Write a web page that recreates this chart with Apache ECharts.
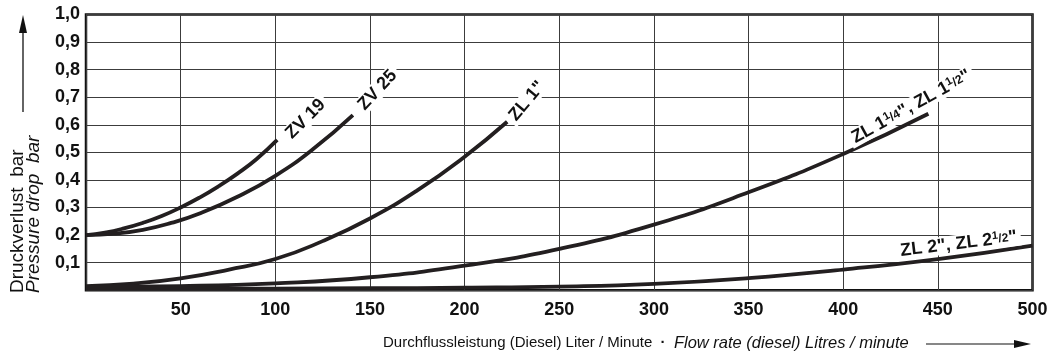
<!DOCTYPE html>
<html><head><meta charset="utf-8">
<script src="https://cdn.jsdelivr.net/npm/echarts@6/dist/echarts.min.js"></script>
<style>html,body{margin:0;padding:0;background:#fff}#c{width:1057px;height:354px}</style>
</head><body><div id="c"></div>
<script>
// ---- data ----
const zv19X = [0, 10, 20, 30, 40, 50, 60, 70, 80, 90, 101];
const zv19Y = [0.2, 0.209, 0.224, 0.244, 0.269, 0.30, 0.336, 0.377, 0.423, 0.475, 0.545];
const zv25X = [0, 15, 30, 45, 60, 80, 100, 120, 141];
const zv25Y = [0.2, 0.205, 0.219, 0.244, 0.278, 0.339, 0.415, 0.512, 0.635];
const zl1X = [0, 25, 50, 75, 100, 125, 150, 175, 200, 222.5];
const zl1Y = [0.015, 0.024, 0.043, 0.074, 0.113, 0.178, 0.26, 0.362, 0.484, 0.611];
const zl114X = [0, 50, 100, 150, 200, 250, 300, 350, 400, 445];
const zl114Y = [0.012, 0.015, 0.025, 0.047, 0.089, 0.15, 0.238, 0.355, 0.494, 0.64];
const zl2X = [0, 50, 100, 150, 200, 250, 300, 350, 400, 450, 500];
const zl2Y = [0.005, 0.005, 0.006, 0.007, 0.009, 0.013, 0.023, 0.044, 0.075, 0.113, 0.162];

// curve labels: rich text, anchor in data coordinates, angle in degrees
const labelTexts = [
  '{n|ZV 19}',
  '{n|ZV 25}',
  '{n|ZL 1"}',
  '{n|ZL 1}{s|1}{f|/4}{n|", ZL 1}{s|1}{f|/2}{n|"}',
  '{n|ZL 2", ZL 2}{s|1}{f|/2}{n|"}'
];
const labelX = [116, 154, 233, 436, 461];
const labelY = [0.621, 0.726, 0.686, 0.666, 0.168];
const labelAngle = [45, 47, 50, 29, 7];

const yAxisTitle1 = 'Druckverlust  bar';
const yAxisTitle2 = 'Pressure drop  bar';
const xAxisTitleDe = 'Durchflussleistung (Diesel) Liter / Minute';
const xAxisTitleEn = 'Flow rate (diesel) Litres / minute';

const FONT = '"Liberation Sans", Arial, Helvetica, sans-serif';
const INK = '#231f20';

function pairs(xs, ys) { return xs.map((x, i) => [x, ys[i]]); }
const seriesDefs = [
  ['ZV 19', zv19X, zv19Y],
  ['ZV 25', zv25X, zv25Y],
  ['ZL 1"', zl1X, zl1Y],
  ['ZL 1 1/4", ZL 1 1/2"', zl114X, zl114Y],
  ['ZL 2", ZL 2 1/2"', zl2X, zl2Y]
];

const chart = echarts.init(document.getElementById('c'), null, {renderer: 'canvas'});
chart.setOption({
  animation: false,
  backgroundColor: '#fff',
  grid: {left: 86, right: 24.5, top: 14.5, bottom: 63.8, show: true,
         borderColor: '#111', borderWidth: 2.5, backgroundColor: 'transparent'},
  xAxis: {
    type: 'value', min: 0, max: 500, interval: 50,
    axisLine: {show: false}, axisTick: {show: false},
    splitLine: {show: true, lineStyle: {color: '#3c3c3c', width: 1}},
    axisLabel: {color: '#111', fontWeight: 'bold', fontSize: 18, fontFamily: FONT, margin: 11,
      formatter: v => v === 0 ? '' : String(v)}
  },
  yAxis: {
    type: 'value', min: 0, max: 1, interval: 0.1,
    axisLine: {show: false}, axisTick: {show: false},
    splitLine: {show: true, lineStyle: {color: '#3c3c3c', width: 1}},
    axisLabel: {color: '#111', fontWeight: 'bold', fontSize: 18, fontFamily: FONT, margin: 6,
      formatter: v => v === 0 ? '' : v.toFixed(1).replace('.', ',')}
  },
  series: seriesDefs.map(d => ({
    name: d[0], type: 'line', data: pairs(d[1], d[2]), smooth: true,
    showSymbol: false, symbol: 'none',
    lineStyle: {color: INK, width: 3.8, cap: 'butt'}
  }))
});

// ---- labels & titles ----
const rich = {
  n: {fontSize: 18, fontWeight: 'bold', fontFamily: FONT, fill: '#111'},
  s: {fontSize: 11, fontWeight: 'bold', fontFamily: FONT, fill: '#111', verticalAlign: 'top'},
  f: {fontSize: 12, fontWeight: 'bold', fontFamily: FONT, fill: '#111'}
};
const graphics = labelTexts.map((t, i) => {
  const p = chart.convertToPixel({gridIndex: 0}, [labelX[i], labelY[i]]);
  return {
    type: 'text', x: p[0], y: p[1], rotation: labelAngle[i] * Math.PI / 180, z: 100,
    style: {text: t, rich: rich, align: 'center', verticalAlign: 'middle',
            backgroundColor: '#fff', padding: [0, 4]}
  };
});
// y axis title (rotated)
graphics.push({
  type: 'text', x: 26, y: 293, rotation: Math.PI / 2, z: 100,
  style: {
    text: '{a|' + yAxisTitle1 + '}\n{b|' + yAxisTitle2 + '}',
    align: 'left', verticalAlign: 'middle',
    rich: {
      a: {fontSize: 19, fontFamily: FONT, fill: '#111', lineHeight: 16},
      b: {fontSize: 19, fontFamily: FONT, fontStyle: 'italic', fill: '#111', lineHeight: 16}
    }
  }
});
// y arrow
graphics.push({type: 'line', shape: {x1: 23, y1: 112, x2: 23, y2: 30}, style: {stroke: '#111', lineWidth: 1.3}});
graphics.push({type: 'polygon', shape: {points: [[23, 15], [19, 33], [27, 33]]}, style: {fill: '#111'}});
// x axis title
graphics.push({
  type: 'text', x: 383, y: 343, z: 100,
  style: {
    text: '{a|' + xAxisTitleDe + '}{d|  ·  }{b|' + xAxisTitleEn + '}',
    align: 'left', verticalAlign: 'middle',
    rich: {
      a: {fontSize: 15, fontFamily: FONT, fill: '#111'},
      d: {fontSize: 15, fontFamily: FONT, fontWeight: 'bold', fill: '#111'},
      b: {fontSize: 16.5, fontFamily: FONT, fontStyle: 'italic', fill: '#111'}
    }
  }
});
graphics.push({type: 'line', shape: {x1: 926, y1: 344, x2: 1016, y2: 344}, style: {stroke: '#111', lineWidth: 1.2}});
graphics.push({type: 'polygon', shape: {points: [[1031, 344], [1014, 340], [1014, 348]]}, style: {fill: '#111'}});
chart.setOption({graphic: graphics});
</script>
</body></html>
